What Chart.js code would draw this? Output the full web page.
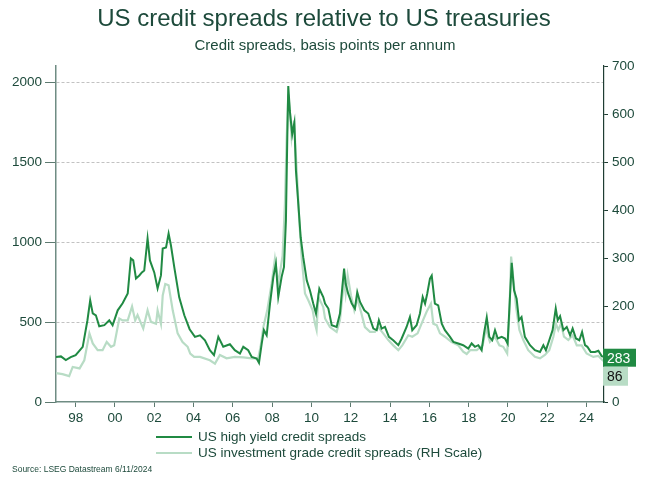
<!DOCTYPE html>
<html>
<head>
<meta charset="utf-8">
<script src="https://cdn.jsdelivr.net/npm/chart.js@4.4.1/dist/chart.umd.min.js"></script>
<style>
  html, body { margin: 0; padding: 0; background: #fff; }
  #wrap { width: 649px; height: 477px; }
</style>
</head>
<body>
<div id="wrap"><canvas id="c" width="649" height="477"></canvas></div>
<script>
// US high yield spreads (bp, left scale)
const hyDates = [1997.00,1997.25,1997.50,1997.75,1998.00,1998.36,1998.60,1998.74,1998.87,1999.03,
  1999.20,1999.46,1999.71,1999.88,2000.14,2000.39,2000.65,2000.81,2000.93,2001.07,
  2001.24,2001.37,2001.49,2001.66,2001.78,2002.00,2002.17,2002.34,2002.43,2002.60,
  2002.73,2002.85,2003.02,2003.27,2003.53,2003.80,2004.07,2004.33,2004.58,2004.83,
  2005.04,2005.26,2005.51,2005.85,2006.10,2006.36,2006.53,2006.78,2006.96,2007.21,
  2007.33,2007.47,2007.58,2007.72,2007.89,2008.06,2008.19,2008.31,2008.48,2008.60,
  2008.70,2008.77,2008.82,2008.90,2009.02,2009.13,2009.21,2009.33,2009.45,2009.58,
  2009.76,2009.92,2010.09,2010.23,2010.40,2010.60,2010.69,2010.86,2011.03,2011.28,
  2011.45,2011.57,2011.66,2011.74,2011.87,2012.05,2012.21,2012.33,2012.47,2012.69,
  2012.89,2013.15,2013.32,2013.43,2013.57,2013.74,2013.94,2014.16,2014.42,2014.59,
  2014.84,2015.01,2015.13,2015.35,2015.52,2015.66,2015.78,2015.89,2016.03,2016.12,
  2016.28,2016.45,2016.63,2016.79,2017.05,2017.22,2017.47,2017.72,2017.98,2018.15,
  2018.32,2018.49,2018.66,2018.78,2018.92,2019.05,2019.20,2019.34,2019.48,2019.68,
  2019.85,2019.98,2020.10,2020.19,2020.31,2020.44,2020.56,2020.69,2020.86,2021.12,
  2021.37,2021.63,2021.80,2021.93,2022.10,2022.27,2022.43,2022.53,2022.65,2022.82,
  2022.99,2023.16,2023.29,2023.46,2023.63,2023.77,2023.92,2024.04,2024.21,2024.43,
  2024.60,2024.77,2024.87];
const hyValues = [282,285,262,280,293,345,511,635,554,542,
  473,480,511,480,573,617,679,897,885,772,
  791,810,822,1022,885,810,710,791,959,966,
  1053,978,841,654,542,455,407,417,386,324,
  293,407,345,361,324,303,345,324,282,272,
  245,366,449,417,615,781,864,656,781,843,
  1134,1653,1975,1819,1674,1746,1445,1238,1030,905,
  760,698,615,553,708,656,615,584,480,469,
  553,718,833,739,677,615,584,687,625,573,
  553,459,449,511,459,469,407,386,355,397,
  469,531,449,480,553,656,615,677,771,790,
  615,604,490,449,407,376,366,355,334,366,
  345,355,324,428,528,407,386,449,397,407,
  397,366,656,870,698,646,511,531,407,355,
  324,313,355,324,386,449,584,511,536,449,
  469,417,459,397,386,438,355,345,313,313,
  320,287,283];

// US investment grade spreads (bp, right scale)
const igDates = [1997.00,1997.33,1997.67,1997.85,1998.20,1998.44,1998.70,1998.87,1999.12,1999.37,
  1999.58,1999.80,1999.96,2000.22,2000.39,2000.65,2000.87,2001.03,2001.15,2001.44,
  2001.66,2001.83,2002.09,2002.17,2002.34,2002.43,2002.56,2002.73,2002.94,2003.19,
  2003.44,2003.70,2003.83,2004.03,2004.33,2004.83,2005.09,2005.34,2005.68,2006.10,
  2006.53,2006.96,2007.29,2007.41,2007.55,2007.75,2007.97,2008.14,2008.31,2008.53,
  2008.65,2008.74,2008.82,2008.90,2008.99,2009.11,2009.25,2009.38,2009.50,2009.67,
  2009.84,2010.06,2010.18,2010.26,2010.35,2010.60,2010.69,2010.94,2011.28,2011.45,
  2011.57,2011.67,2011.74,2011.84,2012.01,2012.18,2012.33,2012.52,2012.72,2012.98,
  2013.23,2013.40,2013.65,2013.91,2014.16,2014.42,2014.62,2014.93,2015.13,2015.40,
  2015.64,2015.86,2016.08,2016.20,2016.37,2016.54,2016.79,2017.13,2017.47,2017.72,
  2017.90,2018.07,2018.41,2018.71,2018.88,2019.08,2019.34,2019.56,2019.76,2019.96,
  2020.07,2020.16,2020.28,2020.41,2020.58,2020.78,2021.03,2021.37,2021.63,2021.88,
  2022.10,2022.31,2022.44,2022.56,2022.70,2022.85,2023.07,2023.29,2023.50,2023.75,
  2024.00,2024.34,2024.60,2024.82,2024.87];
const igValues = [60,58,54,73,70,87,143,122,108,108,
  125,115,118,174,170,170,199,170,181,153,
  191,167,163,191,163,222,246,243,191,143,
  125,115,101,94,94,87,80,98,91,94,
  93,91,91,115,156,191,246,298,246,305,
  413,551,641,606,551,586,482,378,302,226,
  212,191,163,150,219,198,174,156,146,170,
  219,253,226,264,222,191,215,188,156,146,
  146,156,143,129,118,108,118,139,136,143,
  167,188,205,163,160,143,136,125,118,105,
  100,108,108,118,153,125,136,118,115,101,
  184,303,253,198,150,129,108,94,91,98,
  108,136,163,150,163,136,129,139,118,118,
  101,94,96,87,86];

const yearTicks = [1998,2000,2002,2004,2006,2008,2010,2012,2014,2016,2018,2020,2022,2024];
const leftTicks = [0,500,1000,1500,2000];
const rightTicks = [0,100,200,300,400,500,600,700];

const DARK = '#208a43';
const LIGHT = '#b8dcc5';
const TEXT = '#1d4a3b';
const FONT = '"Liberation Sans", Arial, sans-serif';

const toPoints = (xs, ys) => xs.map((x, i) => ({ x, y: ys[i] }));

const decor = {
  id: 'decor',
  afterDraw(chart) {
    const ctx = chart.ctx;
    ctx.save();
    ctx.fillStyle = TEXT;
    ctx.textAlign = 'center';
    ctx.textBaseline = 'middle';
    ctx.font = '24px ' + FONT;
    ctx.fillText('US credit spreads relative to US treasuries', 324, 19);
    ctx.font = '15px ' + FONT;
    ctx.fillText('Credit spreads, basis points per annum', 325, 46);

    // legend
    ctx.textAlign = 'left';
    ctx.font = '13.5px ' + FONT;
    ctx.lineWidth = 2;
    [[DARK, 'US high yield credit spreads', 437], [LIGHT, 'US investment grade credit spreads (RH Scale)', 453]]
      .forEach(([col, label, y]) => {
        ctx.strokeStyle = col;
        ctx.beginPath();
        ctx.moveTo(156, y);
        ctx.lineTo(192, y);
        ctx.stroke();
        ctx.fillStyle = TEXT;
        ctx.fillText(label, 198, y);
      });

    ctx.font = '8.5px ' + FONT;
    ctx.fillText('Source: LSEG Datastream 6/11/2024', 12, 470);

    // last value boxes
    const xA = chart.chartArea.right - 1;
    const hyLast = hyValues[hyValues.length - 1];
    const igLast = igValues[igValues.length - 1];
    const h = 18;
    const yHy = chart.scales.y.getPixelForValue(hyLast);
    const top1 = yHy - h / 2 + 1;
    const yIg = chart.scales.y2.getPixelForValue(igLast);
    const top2 = Math.max(top1 + h, yIg - h / 2);
    ctx.font = '14px ' + FONT;
    ctx.fillStyle = DARK;
    ctx.fillRect(xA, top1, 33, h);
    ctx.fillStyle = '#ffffff';
    ctx.fillText(String(hyLast), xA + 4, top1 + h / 2 + 1);
    ctx.fillStyle = LIGHT;
    ctx.fillRect(xA, top2, 25, h + 1);
    ctx.fillStyle = '#111111';
    ctx.fillText(String(igLast), xA + 4, top2 + h / 2 + 1);
    ctx.restore();
  }
};

new Chart(document.getElementById('c'), {
  type: 'line',
  data: {
    datasets: [
      {
        label: 'US high yield credit spreads',
        data: toPoints(hyDates, hyValues),
        borderColor: DARK,
        borderWidth: 2,
        pointRadius: 0,
        yAxisID: 'y',
        order: 0
      },
      {
        label: 'US investment grade credit spreads (RH Scale)',
        data: toPoints(igDates, igValues),
        borderColor: LIGHT,
        borderWidth: 2.2,
        pointRadius: 0,
        yAxisID: 'y2',
        order: 1
      }
    ]
  },
  options: {
    responsive: false,
    animation: false,
    layout: { padding: { top: 66, left: 0, right: 0, bottom: 0 } },
    plugins: { legend: { display: false }, tooltip: { enabled: false } },
    scales: {
      x: {
        type: 'linear',
        min: 1997.0,
        max: 2024.886,
        afterBuildTicks: (s) => { s.ticks = yearTicks.map(v => ({ value: v })); },
        afterFit: (s) => { s.height = 75; },
        ticks: {
          callback: (v) => String(v % 100).padStart(2, '0'),
          color: TEXT,
          font: { family: FONT, size: 13.5 },
          padding: 3,
          maxRotation: 0
        },
        grid: { drawOnChartArea: false, tickLength: 5, tickColor: '#5d7a70' },
        border: { color: '#6f8c83', width: 1.5 }
      },
      y: {
        position: 'left',
        min: 0,
        max: 2100,
        afterBuildTicks: (s) => { s.ticks = leftTicks.map(v => ({ value: v })); },
        afterFit: (s) => { s.width = 56; },
        ticks: { color: TEXT, font: { family: FONT, size: 13.5 }, padding: 3, callback: (v) => String(v) },
        grid: {
          color: (c) => (c.tick && c.tick.value === 0 ? 'rgba(0,0,0,0)' : '#c2c2c2'),
          tickColor: '#5d7a70',
          tickLength: 11,
          tickBorderDash: []
        },
        border: { color: '#6f8c83', width: 1.5, dash: [3, 2] }
      },
      y2: {
        position: 'right',
        min: 0,
        max: 700,
        afterBuildTicks: (s) => { s.ticks = rightTicks.map(v => ({ value: v })); },
        afterFit: (s) => { s.width = 45; },
        ticks: { color: TEXT, font: { family: FONT, size: 13.5 }, padding: 4, callback: (v) => String(v) },
        grid: { drawOnChartArea: false, tickLength: 4, tickColor: '#1f3d33' },
        border: { color: '#1f3d33', width: 1.2 }
      }
    }
  },
  plugins: [decor]
});
</script>
</body>
</html>
